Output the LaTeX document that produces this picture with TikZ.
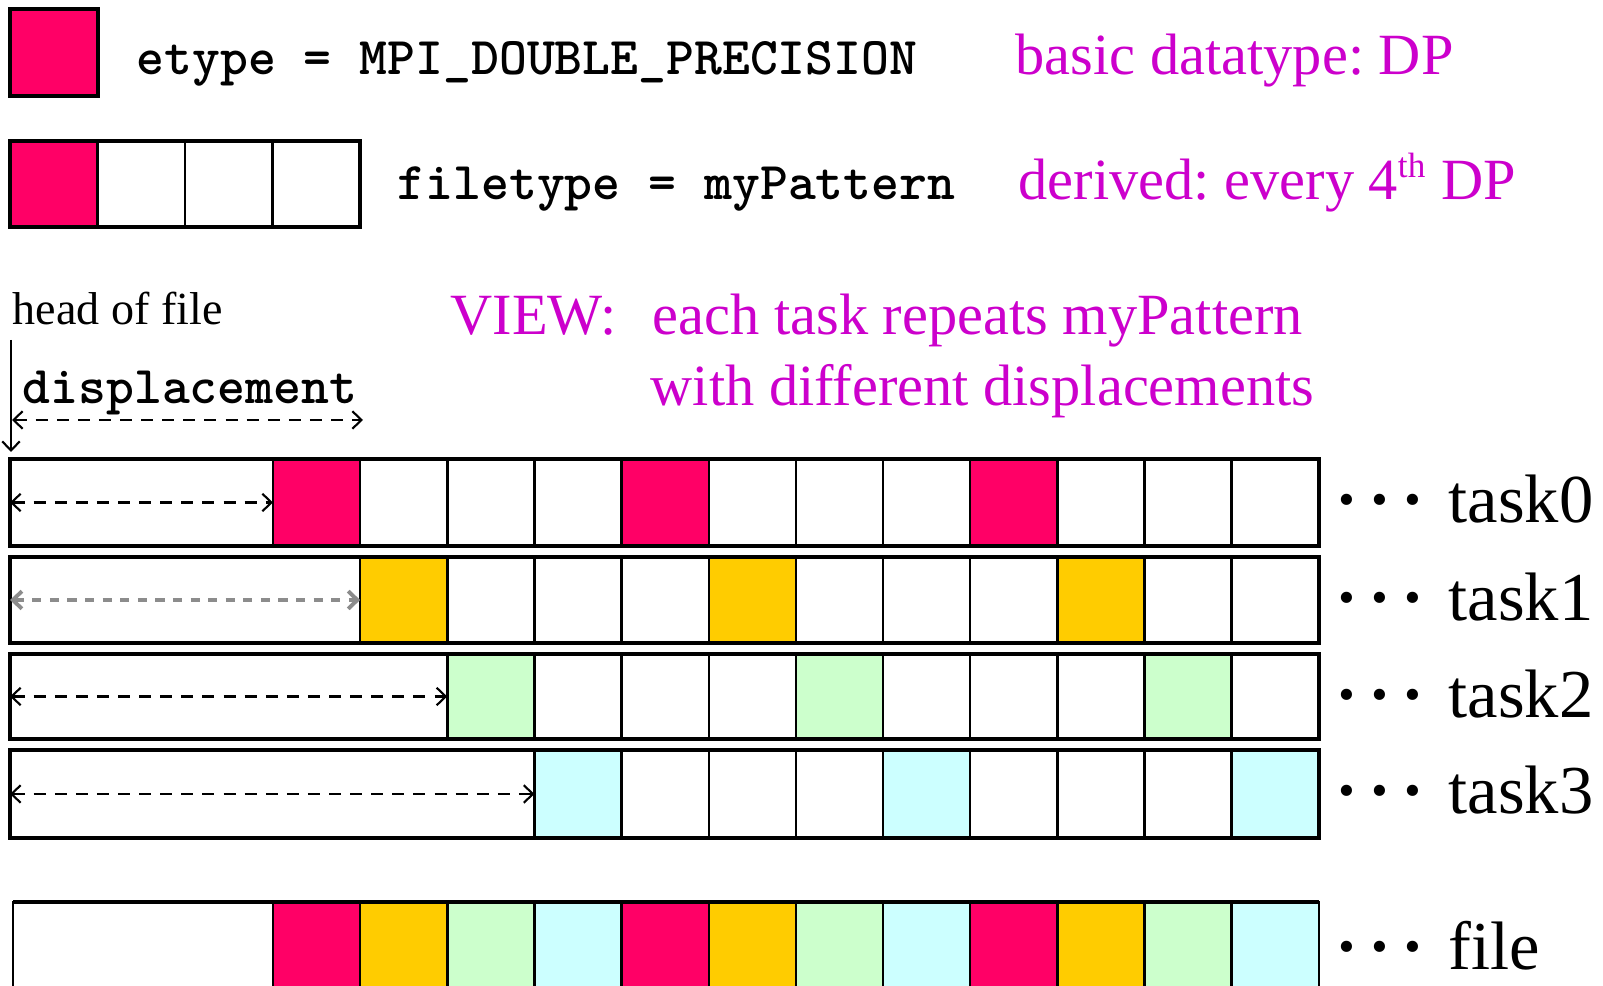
\documentclass[tikz,border=0pt]{standalone}
\usepackage{fontspec}
\setmainfont{Liberation Serif}
\usetikzlibrary{arrows.meta}

\definecolor{dpred}{HTML}{FF0066}
\definecolor{dpgold}{HTML}{FFCC00}
\definecolor{dpgreen}{HTML}{CCFFCC}
\definecolor{dpcyan}{HTML}{CCFFFF}
\definecolor{notemag}{HTML}{CC00CC}

% three spaced dots in front of a row label
\newcommand{\rowdots}{\makebox[0.48em]{\bfseries ·}\makebox[0.48em]{\bfseries ·}\makebox[0.48em]{\bfseries ·}\hskip0.28em}

\begin{document}
\frenchspacing
\begin{tikzpicture}[x=0.01cm, y=-0.01cm,
  cellbox/.style={draw=black, line width=0.7pt, anchor=north west,
    inner sep=0pt, outer sep=0pt, minimum width=0.8715cm},
  rowframe/.style={draw=black, line width=1.1pt},
  code/.style={font=\fontsize{15.1}{17}\ttfamily\bfseries, anchor=base west, inner sep=0pt},
  magtext/.style={font=\fontsize{16.6}{20}\selectfont, text=notemag, anchor=base west, inner sep=0pt},
  plaintext/.style={font=\fontsize{13.1}{15}\selectfont, anchor=base west, inner sep=0pt},
  tasklabel/.style={font=\fontsize{19.5}{23}\selectfont, anchor=base west, inner sep=0pt},
  disparrow/.style={line width=0.6pt, dash pattern=on 3.4pt off 2.6pt, {Straight Barb[length=2.6pt, width=5pt]}-{Straight Barb[length=2.6pt, width=5pt]}},
  headarrow/.style={line width=0.6pt, -{Straight Barb[length=2.6pt, width=5pt]}}
]
\clip (0,0) rectangle (1603,986);

% element type legend
\node[cellbox, fill=dpred, line width=1pt, minimum width=0.88cm, minimum height=0.87cm] (etbox) at (10,9) {};
\node[code] (ettext) at (136,75) {etype = MPI\_DOUBLE\_PRECISION};
\node[magtext] (etnote) at (1015,75) {basic datatype: DP};

% file type legend: one DP followed by three holes
\foreach \k/\c in {0/dpred, 1/white, 2/white, 3/white} {
  \node[cellbox, fill=\c, minimum width=0.875cm, minimum height=0.86cm] (ft\k) at ({10+87.5*\k},141) {};
}
\draw[rowframe] (ft0.north west) rectangle (ft3.south east);
\node[code] (fttext) at (397,200) {filetype = myPattern};
\node[magtext] (ftnote) at (1018,200) {derived: every 4\textsuperscript{\fontsize{10}{12}\selectfont th} DP};

% view description
\node[plaintext] (head) at (12,325) {head of file};
\node[magtext] (view) at (450,335) {VIEW:};
\node[magtext] (view1) at (652,335) {each task repeats myPattern};
\node[magtext] (view2) at (650,406) {with different displacements};
\node[code] (disp) at (22,404) {displacement};

\coordinate (hf-top) at (11,340);
\coordinate (hf-tip) at (11,452);
\draw[headarrow] (hf-top) -- (hf-tip);
\coordinate (da-l) at (12,420);
\coordinate (da-r) at (363,420);
\draw[disparrow] (da-l) -- (da-r);

% one row per task
\foreach \r/\yt/\hh/\col in {0/459/87/dpred, 1/557/86/dpgold, 2/654/85/dpgreen, 3/750/88/dpcyan} {
  \pgfmathsetlengthmacro\dw{(263+87.15*\r)*0.01cm}
  \pgfmathsetlengthmacro\rh{\hh*0.01cm}
  \node[cellbox, minimum width=\dw, minimum height=\rh] (d\r) at (10,\yt) {};
  \foreach \j in {\r,...,11} {
    \pgfmathtruncatemacro\m{mod(\j-\r,4)}
    \ifnum\m=0 \def\fc{\col}\else\def\fc{white}\fi
    \node[cellbox, fill=\fc, minimum height=\rh] (c\r-\j) at ({273+87.15*\j},\yt) {};
  }
  \draw[rowframe] (d\r.north west) rectangle (c\r-11.south east);
  \ifnum\r=1
    \draw[disparrow, draw=gray!90, line width=1.1pt, dash pattern=on 2.6pt off 2.4pt] (d\r.west) -- (c\r-\r.west);
  \else
    \draw[disparrow] (d\r.west) -- (c\r-\r.west);
  \fi
  \node[tasklabel] (lab\r) at (1330,\yt+64) {\rowdots task\r};
}

% resulting file layout
\node[cellbox, minimum width=2.60cm, minimum height=1.1cm] (fd) at (13,902) {};
\foreach \j/\c in {0/dpred, 1/dpgold, 2/dpgreen, 3/dpcyan, 4/dpred, 5/dpgold, 6/dpgreen, 7/dpcyan, 8/dpred, 9/dpgold, 10/dpgreen, 11/dpcyan} {
  \node[cellbox, fill=\c, minimum height=1.1cm] (f\j) at ({273+87.15*\j},902) {};
}
\draw[rowframe] (fd.north west) -- (f11.north east);
\node[tasklabel] (labf) at (1330,969) {\rowdots file};
\end{tikzpicture}
\end{document}
